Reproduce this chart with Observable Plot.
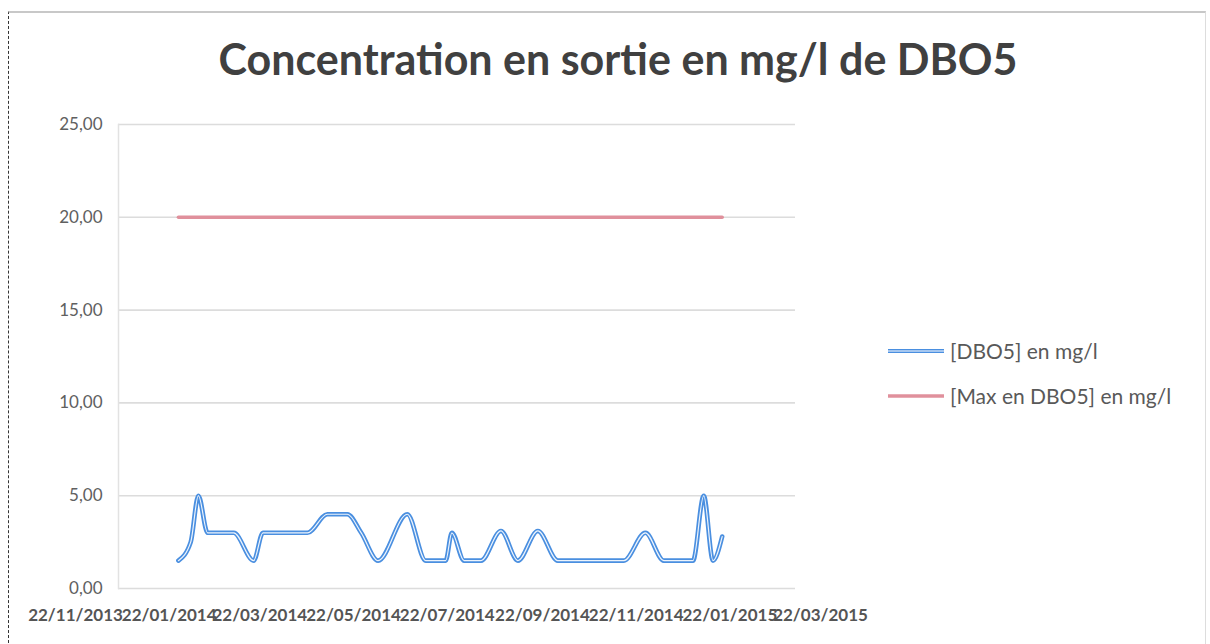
<!DOCTYPE html>
<html>
<head>
<meta charset="utf-8">
<script src="https://cdn.jsdelivr.net/npm/d3@7"></script>
<script src="https://cdn.jsdelivr.net/npm/@observablehq/plot@0.6"></script>
<style>
  html, body { margin: 0; padding: 0; background: #fff; }
  #wrap { position: relative; width: 1210px; height: 644px; overflow: hidden; background: #fff; }
  #border { position: absolute; left: 8px; top: 11px; width: 1196px; height: 640px;
            border-top: 2px solid #c8c8c8; border-left: 1px dashed #333; border-right: 1px solid #ddd; }
  #title { position: absolute; top: 33px; left: 0; width: 1236px; text-align: center;
           font-family: Lato, "Open Sans", sans-serif; font-weight: 700; font-size: 43px; color: #404040; }
  #chart { position: absolute; left: 0; top: 100px; }
  #legend { position: absolute; left: 886px; top: 328px; font-family: Lato, sans-serif; font-size: 21px; color: #595959; }
  .item { display: flex; align-items: center; height: 45px; white-space: nowrap; }
  .item svg { margin-right: 4px; }
</style>
</head>
<body>
<div id="wrap">
  <div id="border"></div>
  <div id="title">Concentration en sortie en mg/l de DBO5</div>
  <div id="chart"></div>
  <div id="legend"></div>
</div>
<script>
// ---- data ----
const dates = ["28/01/2014","05/02/2014","10/02/2014","16/02/2014","05/03/2014","18/03/2014","24/03/2014",
  "22/04/2014","05/05/2014","18/05/2014","27/05/2014","07/06/2014","26/06/2014","08/07/2014","21/07/2014",
  "25/07/2014","02/08/2014","13/08/2014","26/08/2014","06/09/2014","19/09/2014","02/10/2014","14/11/2014",
  "28/11/2014","10/12/2014","29/12/2014","05/01/2015","11/01/2015","17/01/2015"];
const dbo5 = [1.5,2.5,5.0,3.0,3.0,1.5,3.0,3.0,4.0,4.0,3.0,1.5,4.0,1.5,1.5,3.0,1.5,1.5,3.1,1.5,3.1,1.5,1.5,3.0,1.5,1.5,5.0,1.5,2.8];
const maxDbo5 = [20,20,20,20,20,20,20,20,20,20,20,20,20,20,20,20,20,20,20,20,20,20,20,20,20,20,20,20,20];
const seriesNames = ["[DBO5] en mg/l", "[Max en DBO5] en mg/l"];
const seriesColors = ["#4a8fe0", "#e0909c"];
const yTicks = [0, 5, 10, 15, 20, 25];
const xTickLabels = ["22/11/2013","22/01/2014","22/03/2014","22/05/2014","22/07/2014","22/09/2014",
  "22/11/2014","22/01/2015","22/03/2015"];

const parse = d3.utcParse("%d/%m/%Y");
const fmtDate = d3.utcFormat("%d/%m/%Y");
const rows = dates.map((d, i) => ({date: parse(d), dbo5: dbo5[i], max: maxDbo5[i]}));
const xTicks = xTickLabels.map(parse);

const plot = Plot.plot({
  width: 1210,
  height: 544,
  marginLeft: 118,
  marginRight: 415,
  marginTop: 24,
  marginBottom: 56,
  style: {fontFamily: "Lato, sans-serif", background: "transparent"},
  x: {type: "utc", domain: [xTicks[0], xTicks[xTicks.length - 1]], range: [75, 820]},
  y: {domain: [0, 25]},
  marks: [
    Plot.ruleY(yTicks, {stroke: "#dcdcdc", strokeWidth: 1.6}),
    Plot.frame({anchor: "left", stroke: "#e2e2e2", strokeWidth: 1.5}),
    Plot.axisY({ticks: yTicks, tickSize: 0, tickPadding: 16, fontSize: 17, fill: "#606060",
      tickFormat: d => d.toFixed(2).replace(".", ","), label: null}),
    Plot.axisX({ticks: xTicks, tickSize: 0, tickPadding: 20, fontSize: 17, fontWeight: 700, fill: "#555",
      tickFormat: d => fmtDate(d), label: null}),
    Plot.line(rows, {x: "date", y: "max", stroke: seriesColors[1], strokeWidth: 3.5}),
    Plot.line(rows, {x: "date", y: "dbo5", stroke: seriesColors[0], strokeWidth: 4.6, curve: "monotone-x"}),
    Plot.line(rows, {x: "date", y: "dbo5", stroke: "#ffffff", strokeWidth: 1.2, curve: "monotone-x", strokeOpacity: 0.9})
  ]
});
document.getElementById("chart").appendChild(plot);

// legend
const legend = document.getElementById("legend");
seriesNames.forEach((name, i) => {
  const item = document.createElement("div");
  item.className = "item";
  const double = i === 0;
  item.innerHTML = `<svg width="60" height="10"><line x1="2" x2="58" y1="5" y2="5" stroke="${seriesColors[i]}" stroke-width="${double ? 4 : 3.5}"/>` +
    (double ? `<line x1="2" x2="58" y1="5" y2="5" stroke="#fff" stroke-width="1.1"/>` : "") +
    `</svg><span>${name}</span>`;
  legend.appendChild(item);
});
</script>
</body>
</html>
